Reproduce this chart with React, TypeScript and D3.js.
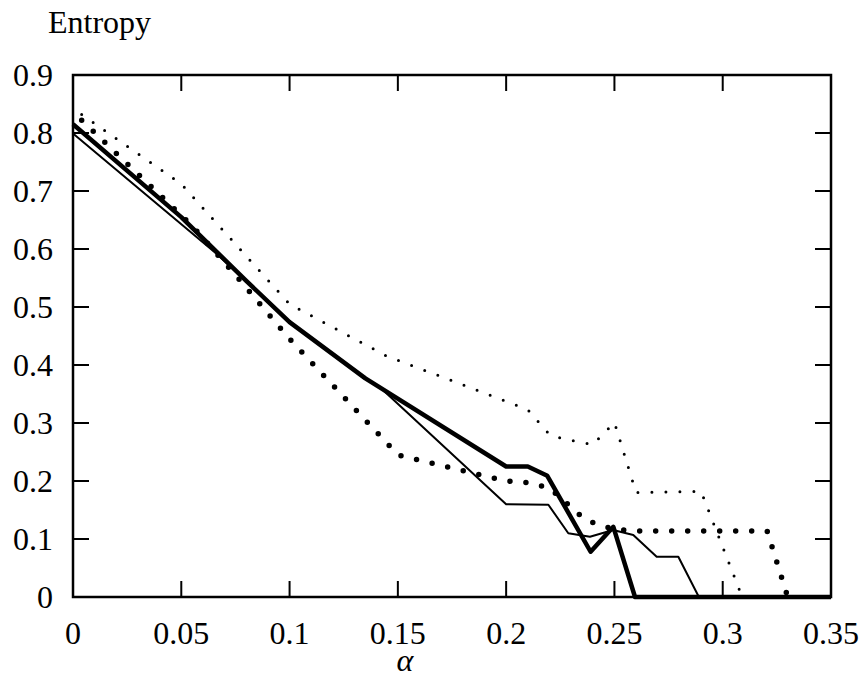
import React from 'react'
import { scaleLinear, line } from 'd3';

// thick solid curve
const thickX = [0, 0.05, 0.08, 0.1, 0.135, 0.2, 0.21, 0.219, 0.239, 0.2495, 0.2595, 0.35];
const thickY = [0.815, 0.655, 0.545, 0.474, 0.377, 0.225, 0.225, 0.209, 0.078, 0.121, 0, 0];

// thin solid curve
const thinX = [0, 0.066, 0.08, 0.1, 0.135, 0.1416, 0.2, 0.2195, 0.2287, 0.2387, 0.2494, 0.2587, 0.2695, 0.2795, 0.289, 0.35];
const thinY = [0.799, 0.5925, 0.545, 0.474, 0.377, 0.362, 0.16, 0.159, 0.11, 0.104, 0.1155, 0.107, 0.0695, 0.0695, 0, 0];

// large dots
const bigDotX = [0.004, 0.055, 0.075, 0.1, 0.137, 0.15, 0.2, 0.21, 0.22, 0.236, 0.242, 0.25, 0.258, 0.3205, 0.33];
const bigDotY = [0.822, 0.64, 0.555, 0.445, 0.297, 0.245, 0.2, 0.197, 0.188, 0.135, 0.125, 0.117, 0.114, 0.114, 0];

// small dots
const smallDotX = [0.004, 0.05, 0.1, 0.145, 0.17, 0.21, 0.22, 0.227, 0.24, 0.25, 0.26, 0.29, 0.309];
const smallDotY = [0.832, 0.712, 0.505, 0.415, 0.38, 0.323, 0.28, 0.272, 0.263, 0.301, 0.18, 0.182, 0];

const xTicks = [0, 0.05, 0.1, 0.15, 0.2, 0.25, 0.3, 0.35];
const yTicks = [0, 0.1, 0.2, 0.3, 0.4, 0.5, 0.6, 0.7, 0.8, 0.9];

const zip = (xs: number[], ys: number[]) => xs.map((x, i) => [x, ys[i]] as [number, number]);

const App = () => {
    const width = 864;
    const height = 677;
    const left = 73, right = 831, top = 75, bottom = 597;

    const x = scaleLinear().domain([0, 0.35]).range([left, right]);
    const y = scaleLinear().domain([0, 0.9]).range([bottom, top]);

    const ln = line<[number, number]>().x(d => x(d[0])).y(d => y(d[1]));
    const font = '"Liberation Serif", "Times New Roman", serif';
    const tickLen = 16;

    return (
        <svg width={width} height={height} style={{ position: 'absolute', left: 0, top: 0, background: 'white' }}>
            <text x={48} y={33} fontFamily={font} fontSize={32}>Entropy</text>

            {/* curves */}
            <path d={ln(zip(smallDotX, smallDotY)) || ''} fill="none" stroke="black" strokeWidth={3}
                strokeDasharray="0 14" strokeLinecap="round" />
            <path d={ln(zip(bigDotX, bigDotY)) || ''} fill="none" stroke="black" strokeWidth={5.5}
                strokeDasharray="0 16" strokeLinecap="round" />
            <path d={ln(zip(thinX, thinY)) || ''} fill="none" stroke="black" strokeWidth={2} strokeLinejoin="round" />
            <path d={ln(zip(thickX, thickY)) || ''} fill="none" stroke="black" strokeWidth={4.5} strokeLinejoin="round" />

            {/* ticks */}
            {xTicks.slice(1, -1).map(t => (
                <g key={'xt' + t}>
                    <line x1={x(t)} x2={x(t)} y1={bottom} y2={bottom - tickLen} stroke="black" strokeWidth={2} />
                    <line x1={x(t)} x2={x(t)} y1={top} y2={top + tickLen} stroke="black" strokeWidth={2} />
                </g>
            ))}
            {yTicks.slice(1, -1).map(t => (
                <g key={'yt' + t}>
                    <line x1={left} x2={left + tickLen} y1={y(t)} y2={y(t)} stroke="black" strokeWidth={2} />
                    <line x1={right} x2={right - tickLen} y1={y(t)} y2={y(t)} stroke="black" strokeWidth={2} />
                </g>
            ))}

            <rect x={left} y={top} width={right - left} height={bottom - top} fill="none" stroke="black" strokeWidth={2.5} />

            {/* labels */}
            {xTicks.map(t => (
                <text key={'xl' + t} x={x(t)} y={644} textAnchor="middle" fontFamily={font} fontSize={32}>{String(t)}</text>
            ))}
            {yTicks.map(t => (
                <text key={'yl' + t} x={53} y={y(t) + 11} textAnchor="end" fontFamily={font} fontSize={32}>{String(t)}</text>
            ))}
            <text x={405} y={671} textAnchor="middle" fontFamily={font} fontSize={32} fontStyle="italic">α</text>
        </svg>
    )
}

export default App;
